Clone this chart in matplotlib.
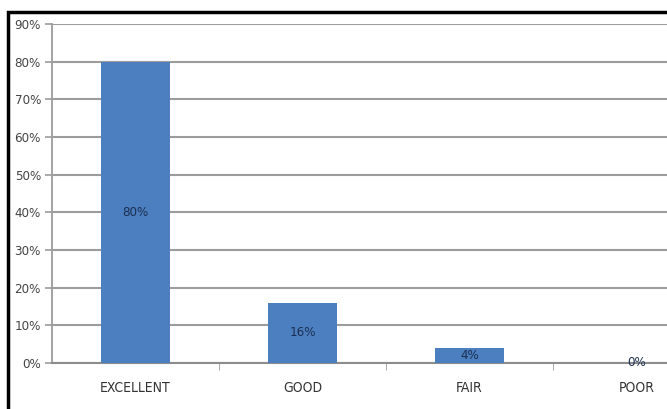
import matplotlib.pyplot as plt
from matplotlib.patches import Rectangle

categories = ["EXCELLENT", "GOOD", "FAIR", "POOR"]
values = [80, 16, 4, 0]
yticks = [0, 10, 20, 30, 40, 50, 60, 70, 80, 90]

W, H = 667, 409
fig = plt.figure(figsize=(W / 100, H / 100), dpi=100)
fig.patch.set_facecolor("white")

font = dict(family="DejaVu Sans", stretch="condensed")

# plot area runs off the right edge of the figure
ax = fig.add_axes([52 / W, 46 / H, 668 / W, 339 / H])
ax.set_xlim(-0.5, len(categories) - 0.5)
ax.set_ylim(0, 90)

x = list(range(len(categories)))
ax.bar(x, values, width=0.41, color="#4b7fc0", zorder=3)

for xi, v in zip(x, values):
    ax.text(xi, v / 2, f"{v}%", ha="center", va="center", fontsize=9.5,
            color="#1c2f52", zorder=4, **font)

ax.set_yticks(yticks)
ax.set_yticklabels([f"{t}%" for t in yticks], fontsize=9.5, color="#444444", **font)
ax.yaxis.grid(True, color="#9c9c9c", linewidth=1.5, zorder=0)

ax.set_xticks([i + 0.5 for i in x[:-1]], minor=True)
ax.set_xticks(x)
ax.set_xticklabels(categories, fontsize=10, color="#333333", **font)
ax.tick_params(axis="x", which="major", length=0, pad=13)
ax.tick_params(axis="x", which="minor", length=5, color="#9c9c9c", direction="out")
ax.tick_params(axis="y", length=5, color="#9c9c9c", width=1.2, pad=3)

for side in ["top", "right"]:
    ax.spines[side].set_visible(False)
ax.spines["left"].set_color("#9c9c9c")
ax.spines["left"].set_linewidth(1.3)
ax.spines["bottom"].set_color("#8c8c8c")
ax.spines["bottom"].set_linewidth(1.5)

# black frame around the chart, cut by the figure edge
fig.patches.append(Rectangle((8 / W, -0.1), 1.2, (H - 12) / H + 0.1,
                             transform=fig.transFigure, fill=False,
                             edgecolor="black", linewidth=2.5))

fig.savefig("out.png", dpi=100)
